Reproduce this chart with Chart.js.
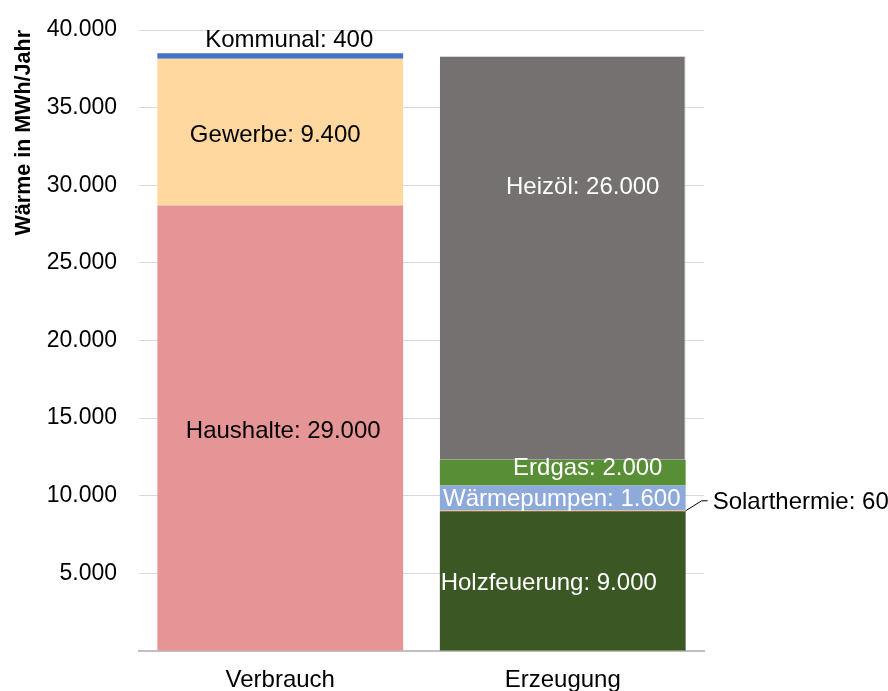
<!DOCTYPE html>
<html>
<head>
<meta charset="utf-8">
<script src="https://cdn.jsdelivr.net/npm/chart.js@4.4.1/dist/chart.umd.min.js"></script>
<style>
  html, body { margin: 0; padding: 0; background: #ffffff; }
  #wrap { width: 888px; height: 691px; }
</style>
</head>
<body>
<div id="wrap"><canvas id="c" width="888" height="691"></canvas></div>
<script>
// ---- Data ----
const categories = ['Verbrauch', 'Erzeugung'];

const verbrauchNames  = ['Haushalte', 'Gewerbe', 'Kommunal'];
const verbrauchValues = [28700, 9450, 350];
const verbrauchLabels = ['29.000', '9.400', '400'];

const erzeugungNames  = ['Holzfeuerung', 'Solarthermie', 'Wärmepumpen', 'Erdgas', 'Heizöl'];
const erzeugungValues = [9000, 60, 1600, 1660, 26000];
const erzeugungLabels = ['9.000', '60', '1.600', '2.000', '26.000'];

const yAxisTitle = 'Wärme in MWh/Jahr';
const yMin = 0, yMax = 40000, yStep = 5000;

// ---- Styles ----
const colors = {
  'Haushalte': '#e69596',
  'Gewerbe': '#fed89e',
  'Kommunal': '#4472c4',
  'Holzfeuerung': '#3a5724',
  'Solarthermie': '#f4b183',
  'Wärmepumpen': '#8eaadb',
  'Erdgas': '#588f36',
  'Heizöl': '#767171'
};
const labelStyle = {
  'Haushalte':    { dx: 3,   dy: 3,   color: '#000000' },
  'Gewerbe':      { dx: -5,  dy: 3,   color: '#000000' },
  'Kommunal':     { dx: 9,   dy: 0,   color: '#000000', above: 13 },
  'Holzfeuerung': { dx: -14, dy: 2,   color: '#ffffff' },
  'Solarthermie': { color: '#000000', leader: true },
  'Wärmepumpen':  { dx: -1,  dy: 1,   color: '#ffffff' },
  'Erdgas':       { dx: 25,  dy: -4,  color: '#ffffff' },
  'Heizöl':       { dx: 20,  dy: -71, color: '#ffffff' }
};
const FONT = '"Liberation Sans", Arial, sans-serif';
const LABEL_SIZE = 24;
const TICK_SIZE = 23;

const datasets = [];
verbrauchNames.forEach((n, i) => datasets.push({
  label: n, data: [verbrauchValues[i], null], valueLabel: verbrauchLabels[i],
  backgroundColor: colors[n], stack: 's', borderWidth: 0
}));
erzeugungNames.forEach((n, i) => datasets.push({
  label: n, data: [null, erzeugungValues[i]], valueLabel: erzeugungLabels[i],
  backgroundColor: colors[n], stack: 's',
  borderWidth: n === 'Heizöl' ? { top: 1, right: 1, left: 0, bottom: 0 } : 0,
  borderColor: '#d6d6d6'
}));

const labelPlugin = {
  id: 'segLabels',
  afterDatasetsDraw(chart) {
    const ctx = chart.ctx;
    ctx.save();
    ctx.font = LABEL_SIZE + 'px ' + FONT;
    ctx.textBaseline = 'middle';
    chart.data.datasets.forEach((ds, di) => {
      const meta = chart.getDatasetMeta(di);
      const idx = ds.data[0] !== null ? 0 : 1;
      const el = meta.data[idx];
      if (!el) return;
      const st = labelStyle[ds.label];
      const text = ds.label + ': ' + ds.valueLabel;
      const cy = (el.y + el.base) / 2;
      ctx.fillStyle = st.color;
      if (st.leader) {
        const x0 = el.x + el.width / 2;
        ctx.strokeStyle = '#000000';
        ctx.lineWidth = 1;
        ctx.beginPath();
        ctx.moveTo(x0, cy);
        ctx.lineTo(x0 + 16, cy - 10);
        ctx.lineTo(x0 + 22, cy - 10);
        ctx.stroke();
        ctx.textAlign = 'left';
        ctx.fillText(text, x0 + 27, cy - 8);
      } else if (st.above) {
        ctx.textAlign = 'center';
        ctx.fillText(text, el.x + st.dx, el.y - st.above);
      } else {
        ctx.textAlign = 'center';
        ctx.fillText(text, el.x + st.dx, cy + st.dy);
      }
    });
    ctx.restore();
  }
};

new Chart(document.getElementById('c'), {
  type: 'bar',
  data: { labels: categories, datasets },
  plugins: [labelPlugin],
  options: {
    responsive: false,
    animation: false,
    devicePixelRatio: 1,
    categoryPercentage: 0.87,
    barPercentage: 1.0,
    layout: { padding: { left: 0, top: 30, right: 184, bottom: 0 } },
    plugins: { legend: { display: false }, tooltip: { enabled: false } },
    scales: {
      x: {
        stacked: true,
        grid: { display: false, drawTicks: false },
        border: { display: true, color: '#bfbfbf', width: 2 },
        ticks: { color: '#000000', font: { family: FONT, size: LABEL_SIZE }, padding: 15 },
        afterFit(scale) { scale.height = 40; }
      },
      y: {
        stacked: true,
        min: yMin, max: yMax,
        grid: { color: '#d9d9d9', lineWidth: 1, drawTicks: true, tickLength: 22, tickColor: 'rgba(0,0,0,0)' },
        border: { display: false },
        ticks: {
          stepSize: yStep, color: '#000000', padding: 0,
          font: { family: FONT, size: TICK_SIZE },
          callback: v => v === 0 ? '' : v.toLocaleString('de-DE')
        },
        title: {
          display: true, text: yAxisTitle, align: 'end', color: '#000000',
          font: { family: FONT, size: 21.5, weight: 'bold' },
          padding: { top: 11, bottom: 0 }
        },
        afterFit(scale) { scale.width = 139; }
      }
    }
  }
});
</script>
</body>
</html>
